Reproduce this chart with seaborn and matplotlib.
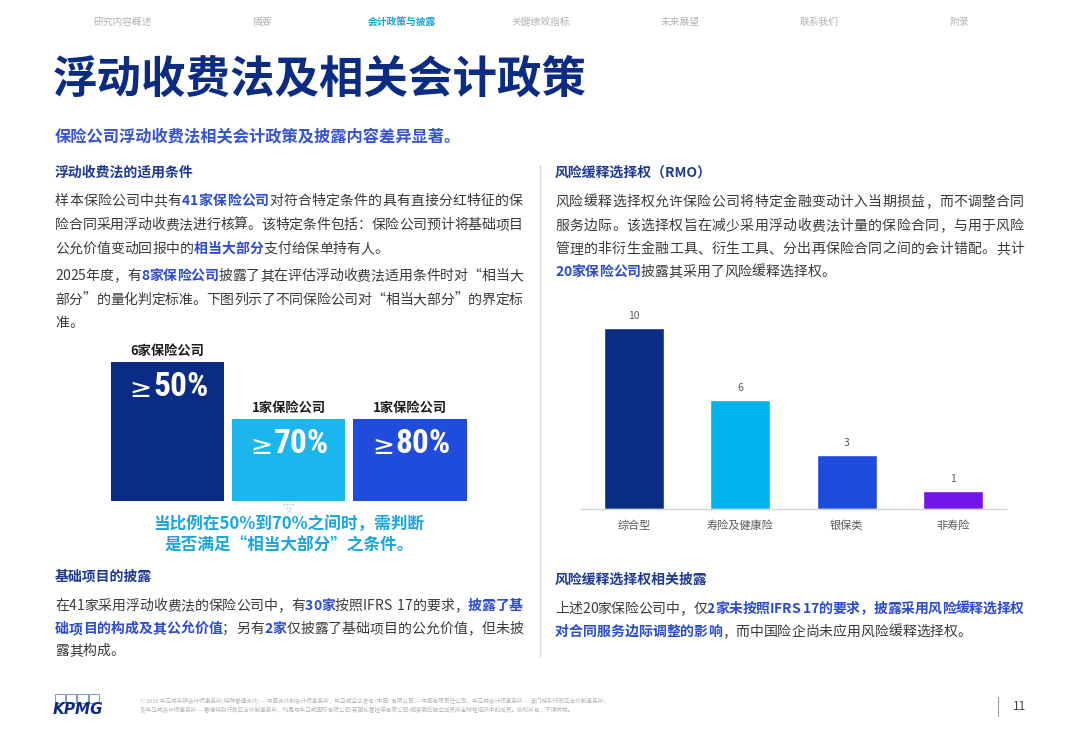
import matplotlib
matplotlib.use("Agg")
import matplotlib.pyplot as plt
import seaborn as sns
import pandas as pd
from matplotlib.font_manager import findfont, FontProperties
from matplotlib.ft2font import FT2Font
from matplotlib.patches import Rectangle

# ---- data ----
rmo_categories = ["综合型", "寿险及健康险", "银保类", "非寿险"]
rmo_counts = [10, 6, 3, 1]
rmo_colors = ["#0B2C86", "#00B3EE", "#1E4BDB", "#7315E8"]

threshold_labels = ["≥50%", "≥70%", "≥80%"]
threshold_companies = [6, 1, 1]
threshold_colors = ["#0B2C86", "#1CB6EF", "#1F4CDC"]

nav_items = ["研究内容概述", "摘要", "会计政策与披露", "关键绩效指标", "未来展望", "联系我们", "附录"]
nav_active = 2

NAVY = "#0C2C84"
HEAD = "#1F3A93"
BLUE = "#2B4BD1"
TEXT = "#3A3A3A"
CYAN = "#1AA6E0"

sns.set_theme(style="white")
plt.rcParams["font.family"] = ["Noto Sans CJK SC", "DejaVu Sans"]

fig = plt.figure(figsize=(10.8, 7.48), dpi=100)
fig.patch.set_facecolor("white")
page = fig.add_axes([0, 0, 1, 1])
page.set_xlim(0, 1080)
page.set_ylim(748, 0)
page.axis("off")
page.set_zorder(0)

_fonts = {}


def advance(ch, size, bold):
    if bold not in _fonts:
        path = findfont(FontProperties(family="Noto Sans CJK SC",
                                       weight="bold" if bold else "normal"))
        _fonts[bold] = FT2Font(path)
    f = _fonts[bold]
    f.set_size(size, 100)
    g = f.load_char(ord(ch))
    return g.linearHoriAdvance / 65536


def rich_line(x, y, parts, size=10.0, right=None, normal=TEXT, strong=BLUE):
    chars = []
    for txt, bold in parts:
        for ch in txt:
            chars.append((ch, bold, advance(ch, size, bold)))
    gap = 0
    if right is not None and len(chars) > 1:
        gap = (right - x - sum(c[2] for c in chars)) / (len(chars) - 1)
    for ch, bold, w in chars:
        page.text(x, y, ch, fontsize=size, va="center", ha="left",
                  color=strong if bold else normal,
                  fontweight="bold" if bold else "normal")
        x += w + gap


# ---- navigation ----
for i, item in enumerate(nav_items):
    page.text(123 + i * 139.3, 22, item, fontsize=7, ha="center", va="center",
              color="#1EA2D6" if i == nav_active else "#B2B2B2",
              fontweight="bold" if i == nav_active else "normal")

# ---- titles ----
page.text(53, 80, "浮动收费法及相关会计政策", fontsize=32, fontweight="heavy",
          color=NAVY, va="center", ha="left")
page.text(55, 137, "保险公司浮动收费法相关会计政策及披露内容差异显著。", fontsize=11.7,
          fontweight="bold", color="#3653D3", va="center", ha="left")

# ---- left column ----
page.text(55, 173, "浮动收费法的适用条件", fontsize=10, fontweight="bold",
          color=HEAD, va="center")
R_L = 523
rich_line(55, 201, [("样本保险公司中共有", 0), ("41家保险公司", 1),
                    ("对符合特定条件的具有直接分红特征的保", 0)], right=R_L)
rich_line(55, 225, [("险合同采用浮动收费法进行核算。该特定条件包括：保险公司预计将基础项目", 0)],
          right=R_L)
rich_line(55, 249, [("公允价值变动回报中的", 0), ("相当大部分", 1), ("支付给保单持有人。", 0)])
rich_line(55, 276, [("2025年度，有", 0), ("8家保险公司", 1),
                    ("披露了其在评估浮动收费法适用条件时对“相当大", 0)], right=R_L)
rich_line(55, 300, [("部分”的量化判定标准。下图列示了不同保险公司对“相当大部分”的界定标", 0)],
          right=R_L)
rich_line(55, 323, [("准。", 0)])

# threshold blocks
block_heights = [1.0, 0.59, 0.59]
bx = fig.add_axes([107 / 1080, (748 - 501) / 748, (470.5 - 107) / 1080, 161 / 748])
bx.bar(range(len(threshold_labels)), block_heights, width=0.934,
       color=threshold_colors, linewidth=0)
bx.set_xlim(-0.5, 2.5)
bx.set_ylim(0, 161 / 139)
bx.axis("off")
for i, (lab, n, h) in enumerate(zip(threshold_labels, threshold_companies, block_heights)):
    bx.annotate(f"{n}家保险公司", (i, h), xytext=(0, 8), textcoords="offset points",
                ha="center", va="center", fontsize=9.5, fontweight="bold", color="#1C1C1C")
    bx.annotate(lab[0], (i, h), xytext=(-19.5, -20), textcoords="offset points",
                ha="center", va="center", fontsize=19, color="white",
                family=["DejaVu Sans"])
    bx.annotate(lab[1:], (i, h), xytext=(-10.5, -18), textcoords="offset points",
                ha="left", va="center", fontsize=24, fontweight="bold", color="white",
                family=["Roboto Condensed", "Roboto", "DejaVu Sans"])

# dotted arrow under the middle block
rows = [(489, 9, "#D6F3FF"), (492.5, 8, "#D6F3FF"), (496, 7, "#D6F3FF"),
        (499.5, 5, "#D6F3FF"), (504, 4, "#8FD8F6"), (507.5, 2, "#8FD8F6"),
        (510.5, 1, "#8FD8F6")]
for y, n, c in rows:
    xs = [288.5 + (k - (n - 1) / 2) * 3.0 for k in range(n)]
    page.scatter(xs, [y] * n, s=1.6, color=c, linewidths=0, zorder=5)

page.text(289, 525, "当比例在50%到70%之间时，需判断", fontsize=12, fontweight="bold",
          color=CYAN, ha="center", va="center")
page.text(289, 546, "是否满足“相当大部分”之条件。", fontsize=12, fontweight="bold",
          color=CYAN, ha="center", va="center")

page.text(55, 576, "基础项目的披露", fontsize=10, fontweight="bold", color=HEAD, va="center")
rich_line(55, 606, [("在41家采用浮动收费法的保险公司中，有", 0), ("30家", 1),
                    ("按照IFRS  17的要求，", 0), ("披露了基", 1)], right=R_L)
rich_line(55, 629, [("础项目的构成及其公允价值", 1), ("；另有", 0), ("2家", 1),
                    ("仅披露了基础项目的公允价值，但未披", 0)], right=R_L)
rich_line(55, 651, [("露其构成。", 0)])

# divider
page.plot([540, 540], [165, 657], color="#DADADA", lw=1)

# ---- right column ----
page.text(555, 173, "风险缓释选择权（RMO）", fontsize=10, fontweight="bold",
          color=HEAD, va="center")
R_R = 1024
rich_line(555, 202, [("风险缓释选择权允许保险公司将特定金融变动计入当期损益，而不调整合同", 0)],
          right=R_R)
rich_line(555, 226, [("服务边际。该选择权旨在减少采用浮动收费法计量的保险合同，与用于风险", 0)],
          right=R_R)
rich_line(555, 249, [("管理的非衍生金融工具、衍生工具、分出再保险合同之间的会计错配。共计", 0)],
          right=R_R)
rich_line(555, 272, [("20家保险公司", 1), ("披露其采用了风险缓释选择权。", 0)])

# RMO bar chart
df = pd.DataFrame({"类型": rmo_categories, "家数": rmo_counts})
ax = fig.add_axes([581 / 1080, (748 - 509) / 748, (1006 - 581) / 1080, (509 - 300.8) / 748])
sns.barplot(data=df, x="类型", y="家数", hue="类型", palette=rmo_colors,
            width=0.565, saturation=1, legend=False, ax=ax)
ax.set_xlim(-0.5, 3.5)
ax.set_ylim(0, 11.5)
ax.set_facecolor("none")
for side in ["left", "right", "top"]:
    ax.spines[side].set_visible(False)
ax.spines["bottom"].set_color("#D6D6D6")
ax.spines["bottom"].set_linewidth(1)
ax.set_yticks([])
ax.set_xlabel("")
ax.set_ylabel("")
ax.tick_params(axis="x", length=0, pad=8, labelsize=8, labelcolor="#5A5A5A")
for c in ax.containers:
    ax.bar_label(c, padding=5, fontsize=7.5, color="#5A5A5A")

page.text(555, 580, "风险缓释选择权相关披露", fontsize=10, fontweight="bold",
          color=HEAD, va="center")
rich_line(555, 609, [("上述20家保险公司中，仅", 0), ("2家未按照IFRS 17的要求，披露采用风险缓释选择权", 1)],
          right=R_R)
rich_line(555, 632, [("对合同服务边际调整的影响", 1), ("，而中国险企尚未应用风险缓释选择权。", 0)])

# ---- footer ----
for k in range(4):
    page.add_patch(Rectangle((55 + k * 11.2, 694), 10.2, 9, fill=False,
                             edgecolor="#6F86C0", lw=0.6))
page.text(53, 709, "KPMG", fontsize=11, fontweight="bold", style="italic",
          color=NAVY, va="center", ha="left", family=["DejaVu Sans"])
page.text(140, 701, "© 2026 毕马威华振会计师事务所(特殊普通合伙) — 中国合伙制会计师事务所，毕马威企业咨询 (中国) 有限公司 — "
          "中国有限责任公司，毕马威会计师事务所 — 澳门特别行政区合伙制事务所，",
          fontsize=4.1, color="#B4B4B4", va="center")
page.text(140, 710, "及毕马威会计师事务所 — 香港特别行政区合伙制事务所，均是与毕马威国际有限公司(英国私营担保有限公司)"
          "相关联的独立成员所全球性组织中的成员。版权所有，不得转载。",
          fontsize=4.1, color="#B4B4B4", va="center")
page.plot([998, 998], [697, 716], color="#9A9A9A", lw=0.8)
page.text(1013, 706, "11", fontsize=8.5, color="#444444", va="center", ha="left")

fig.savefig("out.png", dpi=100, facecolor="white")
